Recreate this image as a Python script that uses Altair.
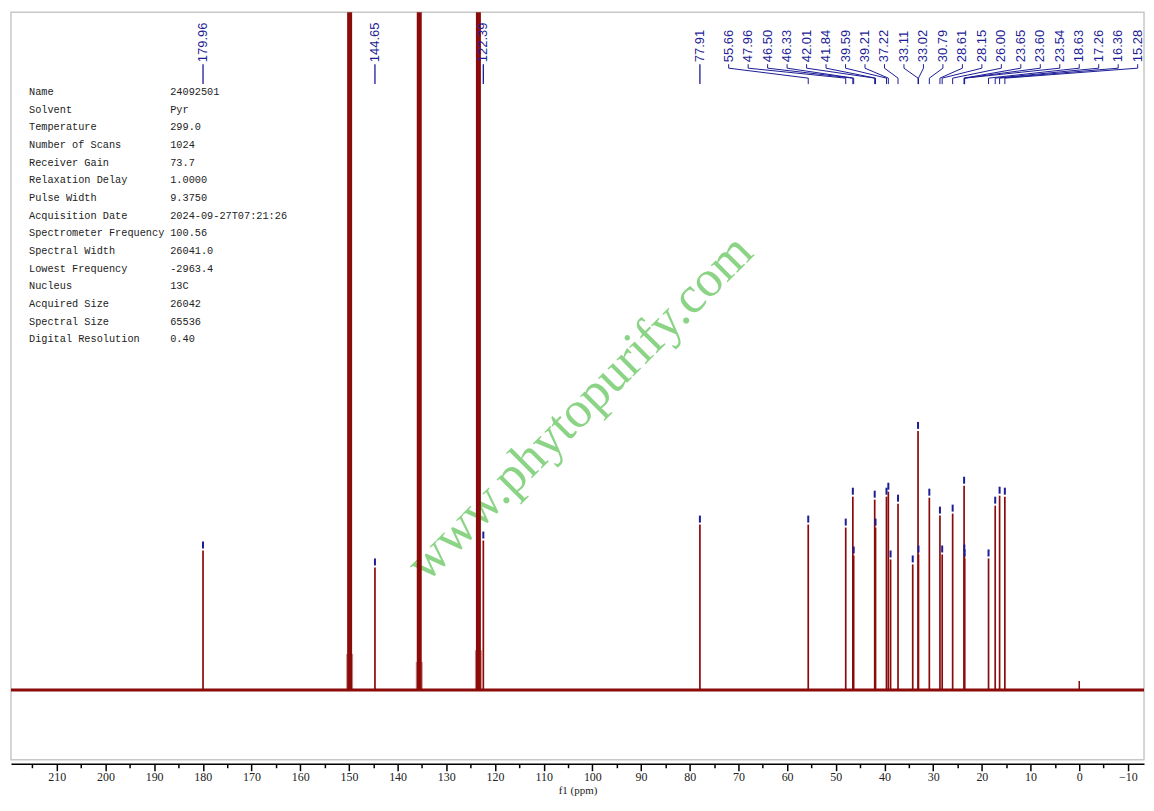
import altair as alt
import numpy as np
import pandas as pd

# 13C spectrum (ppm, height above baseline)
peak_ppm = [179.96, 144.65, 122.39, 77.91, 55.66, 47.96, 46.50, 46.33, 42.01, 41.84,
            39.59, 39.21, 38.75, 37.22, 34.20, 33.11, 33.02, 30.79, 28.61, 28.15,
            26.00, 23.65, 23.60, 23.54, 18.63, 17.26, 16.36, 15.28]
peak_height = [140, 123, 150, 166, 166, 163, 194, 135, 191, 163,
               194, 199, 131, 187, 126, 260, 136, 193, 175, 136,
               177, 205, 137, 132, 132, 185, 195, 194]
# pyridine-d5 solvent signals, far off scale
solvent_ppm = [149.85, 135.55, 123.40]
solvent_height = [3000, 3000, 3000]
solvent_foot = [36, 28, 40]
# small reference signal
ref_ppm = [0.0]
ref_height = [9]

single_labels = [179.96, 144.65, 122.39, 77.91]
cluster_labels = [55.66, 47.96, 46.50, 46.33, 42.01, 41.84, 39.59, 39.21, 37.22, 33.11,
                  33.02, 30.79, 28.61, 28.15, 26.00, 23.65, 23.60, 23.54, 18.63, 17.26,
                  16.36, 15.28]

param_names = ["Name", "Solvent", "Temperature", "Number of Scans", "Receiver Gain",
               "Relaxation Delay", "Pulse Width", "Acquisition Date",
               "Spectrometer Frequency", "Spectral Width", "Lowest Frequency",
               "Nucleus", "Acquired Size", "Spectral Size", "Digital Resolution"]
param_values = ["24092501", "Pyr", "299.0", "1024", "73.7", "1.0000", "9.3750",
                "2024-09-27T07:21:26", "100.56", "26041.0", "-2963.4", "13C",
                "26042", "65536", "0.40"]

tick_values = list(range(215, -15, -5))

RED = "#8b0a0a"
BLUE = "#1c1c96"

xs = alt.Scale(domain=[-13.3, 219.4], reverse=True, nice=False, zero=False)
ys = alt.Scale(domain=[-70, 680], nice=False, zero=False)
xa = alt.Axis(values=tick_values, title="f1 (ppm)", grid=False,
              labelExpr="datum.value % 10 === 0 ? datum.label : ''",
              labelOverlap=False,
              tickSize=alt.condition("datum.value % 10 === 0", alt.value(7), alt.value(4)))


def X(field):
    return alt.X(field, type="quantitative", scale=xs, axis=xa)


def Y(field):
    return alt.Y(field, type="quantitative", scale=ys, axis=None)


peaks = pd.DataFrame({"ppm": peak_ppm, "h": peak_height})
peaks["base"] = 0
peaks["m1"] = peaks["h"] + 2
peaks["m2"] = peaks["h"] + 9
solv = pd.DataFrame({"ppm": solvent_ppm, "h": solvent_height, "foot": solvent_foot})
solv["base"] = 0
ref = pd.DataFrame({"ppm": ref_ppm, "h": ref_height})
ref["base"] = 0

# label layout: text bottom / leader levels in data units
TXT, LEAD_TOP, BEND1, BEND2, LEAD_BOT = 630, 628, 624, 614, 608

single = pd.DataFrame({"ppm": single_labels, "lab": [f"{v:.2f}" for v in single_labels]})
single["y"] = TXT
single["y1"] = LEAD_TOP
single["y2"] = LEAD_BOT

slots = np.linspace(72, -12, len(cluster_labels))
clus = pd.DataFrame({"ppm": slots, "lab": [f"{v:.2f}" for v in cluster_labels]})
clus["y"] = TXT
conn_rows = []
for i, (s, p) in enumerate(zip(slots, cluster_labels)):
    for k, (xx, yy) in enumerate([(s, LEAD_TOP), (s, BEND1), (p, BEND2), (p, LEAD_BOT)]):
        conn_rows.append({"id": i, "k": k, "ppm": xx, "y": yy})
conn = pd.DataFrame(conn_rows)

table = pd.DataFrame({"name": param_names, "val": param_values})
table["y"] = 600 - 17.72 * np.arange(len(param_names))
table["xn"] = 215.7
table["xv"] = 186.7

wm = pd.DataFrame({"ppm": [100.3], "y": [272], "t": ["www.phytopurify.com"]})

watermark = alt.Chart(wm).mark_text(
    font="Liberation Serif", fontSize=52, angle=315, align="center",
    baseline="alphabetic", color="#7fd07a", opacity=0.9
).encode(x=X("ppm"), y=Y("y"), text="t:N")

baseline = alt.Chart(ref).mark_rule(color=RED, strokeWidth=3.2).encode(y=alt.Y(datum=0, scale=ys, axis=None))

solvent_lines = alt.Chart(solv).mark_rule(color=RED, strokeWidth=5, clip=True).encode(
    x=X("ppm"), y=Y("h"), y2="base")
solvent_feet = alt.Chart(solv).mark_rule(color=RED, strokeWidth=7, opacity=0.45, clip=True).encode(
    x=X("ppm"), y=Y("foot"), y2="base")
peak_lines = alt.Chart(peaks).mark_rule(color=RED, strokeWidth=1.7).encode(
    x=X("ppm"), y=Y("h"), y2="base")
ref_line = alt.Chart(ref).mark_rule(color=RED, strokeWidth=1.5).encode(
    x=X("ppm"), y=Y("h"), y2="base")
markers = alt.Chart(peaks).mark_rule(color=BLUE, strokeWidth=2).encode(
    x=X("ppm"), y=Y("m1"), y2="m2")

single_text = alt.Chart(single).mark_text(
    angle=270, align="left", baseline="middle", font="Liberation Sans",
    fontSize=13, color=BLUE, clip=True
).encode(x=X("ppm"), y=Y("y"), text="lab:N")
single_lead = alt.Chart(single).mark_rule(color=BLUE, strokeWidth=1.3).encode(
    x=X("ppm"), y=Y("y1"), y2="y2")
clus_text = alt.Chart(clus).mark_text(
    angle=270, align="left", baseline="middle", font="Liberation Sans",
    fontSize=13, color=BLUE, clip=True
).encode(x=X("ppm"), y=Y("y"), text="lab:N")
connectors = alt.Chart(conn).mark_line(color=BLUE, strokeWidth=1, clip=True).encode(
    x=X("ppm"), y=Y("y"), detail="id:N", order="k:Q")

tab_names = alt.Chart(table).mark_text(
    align="left", baseline="middle", font="Liberation Mono", fontSize=10.3, color="#222222"
).encode(x=X("xn"), y=Y("y"), text="name:N")
tab_vals = alt.Chart(table).mark_text(
    align="left", baseline="middle", font="Liberation Mono", fontSize=10.3, color="#222222"
).encode(x=X("xv"), y=Y("y"), text="val:N")

chart = alt.layer(
    watermark, baseline, solvent_feet, solvent_lines, peak_lines, ref_line, markers,
    single_lead, single_text, connectors, clus_text, tab_names, tab_vals
).properties(
    width=1137, height=750,
    padding={"left": 1, "top": 3, "right": 0, "bottom": 0}
).configure_view(
    stroke="#c8c8c8", strokeWidth=1.5
).configure_axis(
    domainColor="black", domainWidth=1.5, tickColor="black", tickWidth=1.5,
    labelFont="Liberation Serif", labelFontSize=12, labelColor="#222222",
    labelPadding=1, offset=4,
    titleFont="Liberation Serif", titleFontSize=11, titleFontWeight="normal",
    titleColor="#222222", titlePadding=2
)

chart.save("out.html", embed_options={"renderer": "svg", "actions": False})
